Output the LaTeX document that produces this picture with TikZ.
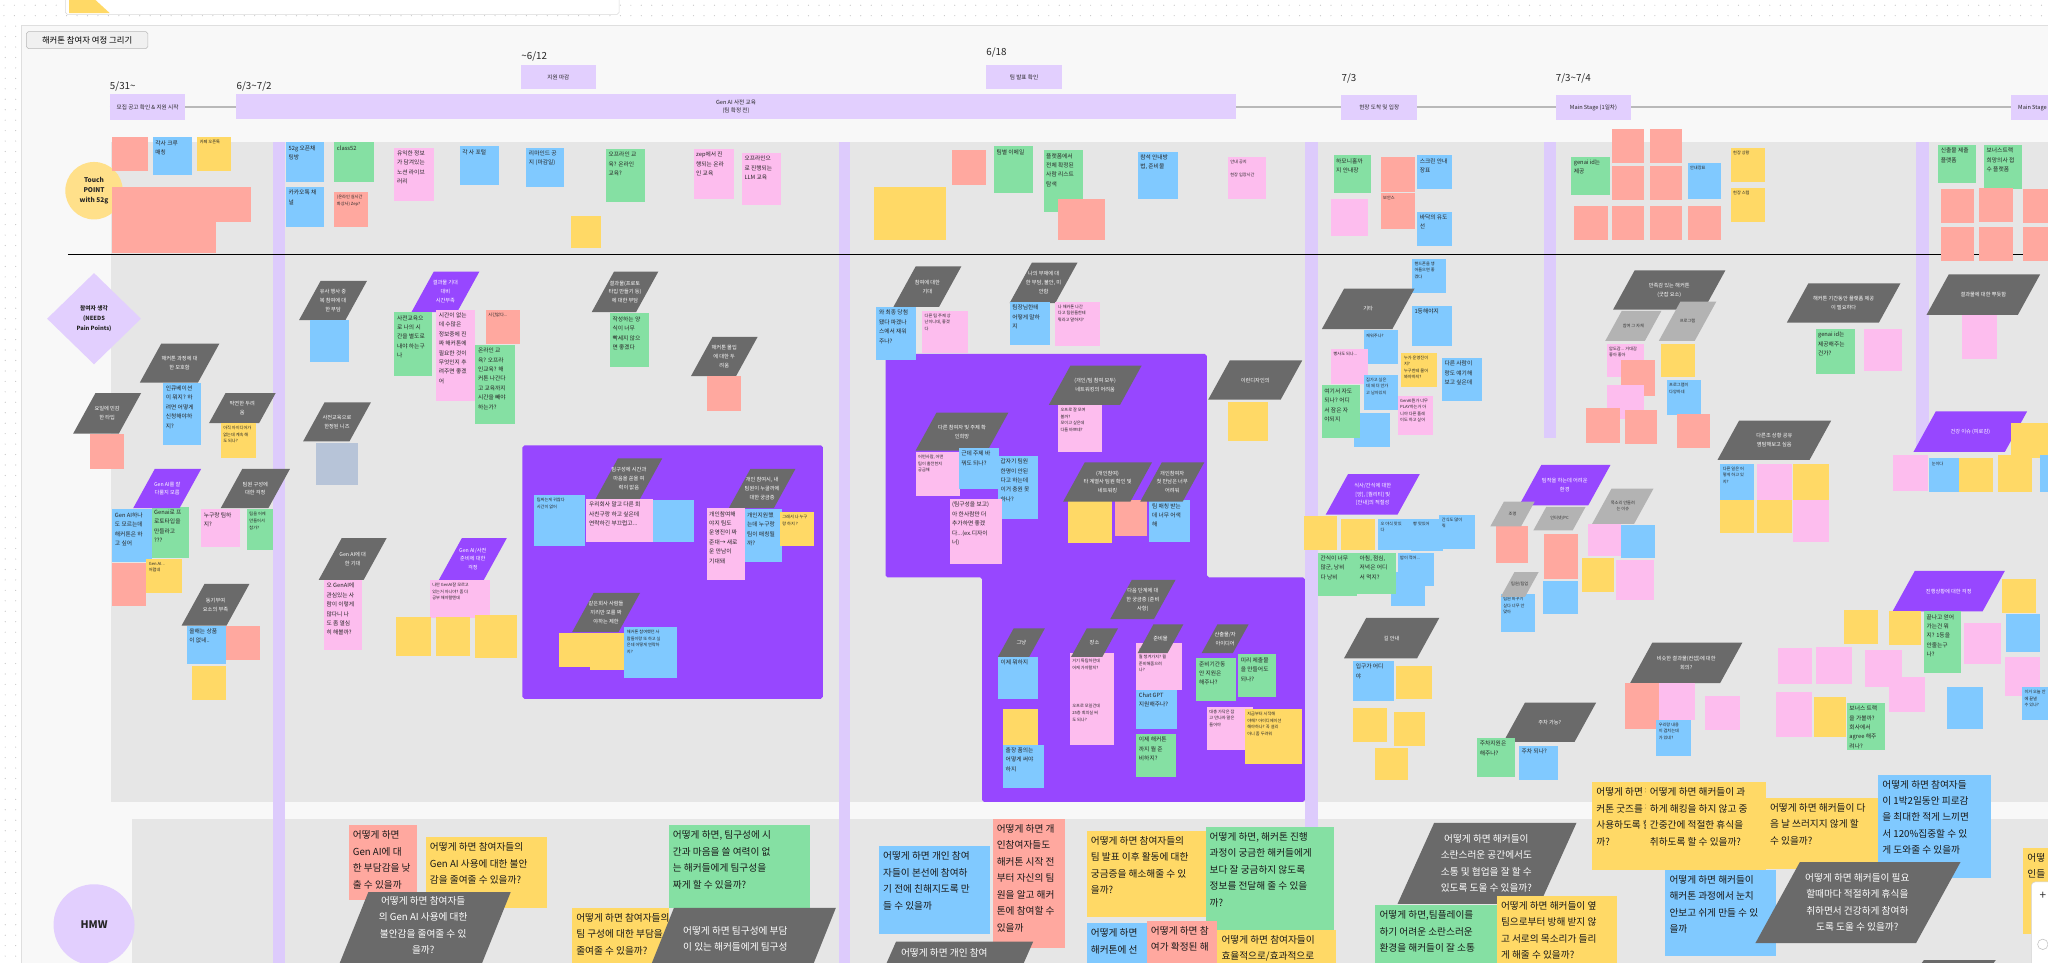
\documentclass[tikz,border=0pt]{standalone}
\usepackage{fontspec}
\setmainfont{Noto Sans CJK KR}
\usetikzlibrary{shapes.geometric}
\definecolor{cRed}{HTML}{FFA89F}
\definecolor{cBlue}{HTML}{80C9FF}
\definecolor{cYel}{HTML}{FFD966}
\definecolor{cGrn}{HTML}{85E0A3}
\definecolor{cPink}{HTML}{FDBDEE}
\definecolor{cGB}{HTML}{B7C4D8}
\definecolor{cDark}{HTML}{6A6A6A}
\definecolor{cLG}{HTML}{B3B3B3}
\definecolor{cVio}{HTML}{9747FF}
\definecolor{cLav}{HTML}{E2CFFE}
\definecolor{cStripe}{HTML}{DDCBFC}
\definecolor{cLane}{HTML}{E6E6E6}
\definecolor{cBoard}{HTML}{F8F8F8}
\definecolor{cTP}{HTML}{FFE08A}
\newcommand\fza{\fontsize{3.2}{5}\selectfont}
\newcommand\fzb{\fontsize{4.4}{7.2}\selectfont}
\newcommand\fzc{\fontsize{7.4}{12.6}\selectfont}
\newcommand\fzp{\fontsize{4}{6.8}\selectfont}
\newcommand\fzt{\fontsize{4.3}{6}\selectfont}
\newcounter{nid}
\tikzset{
 stkbox/.style={rectangle, inner sep=0pt, outer sep=0pt, draw=none},
 stktext/.style={align=left, inner sep=0pt, text=black!85},
 paratext/.style={align=center, inner sep=0pt},
 tlbox/.style={rectangle, fill=cLav, inner sep=0pt, outer sep=0pt, align=center, font=\fzt, text=black!85},
 datelbl/.style={anchor=west, inner sep=0pt, font=\fontsize{7.5}{9}\selectfont, text=black!85},
}
% sticky note: [font]{colour}{x1}{y1}{x2}{y2}{text}
\newcommand\stk[7][\fzb]{%
 \stepcounter{nid}%
 \node[stkbox, fill=#2, minimum width={#5-#3}, minimum height={#6-#4}, anchor=north west] (s\arabic{nid}) at (#3,#4) {};
 \node[stktext, font=#1, anchor=north west] (t\arabic{nid}) at ([xshift=1.8pt,yshift=-2.2pt]s\arabic{nid}.north west) {#7};}
% large HMW note
\newcommand\hm[6]{%
 \stepcounter{nid}%
 \node[stkbox, fill=#1, minimum width={#4-#2}, minimum height={#5-#3}, anchor=north west] (s\arabic{nid}) at (#2,#3) {};
 \node[stktext, font=\fzc, anchor=north west, text=black!90] (t\arabic{nid}) at ([xshift=3pt,yshift=-4pt]s\arabic{nid}.north west) {#6};}
% parallelogram: [font]{fill}{text colour}{x1}{y1}{x2}{y2}{text}
\newcommand\gpara[8][\fzp]{%
 \stepcounter{nid}%
 \pgfmathsetmacro\pslant{0.55*(#7-#5)}%
 \path[fill=#2] (#4+\pslant,#5) -- (#6,#5) -- (#6-\pslant,#7) -- (#4,#7) -- cycle;
 \node[paratext, font=#1, text=#3] (p\arabic{nid}) at ({(#4+#6)/2},{(#5+#7)/2}) {#8};}
\newcommand\hpara[5]{\path[fill=cDark] (#1+#5,#2) -- (#3,#2) -- (#3-#5,#4) -- (#1,#4) -- cycle;}
\begin{document}
\begin{tikzpicture}[x=1pt,y=-1pt]
\useasboundingbox (0,0) rectangle (1568,737);
\fill[white] (0,0) rectangle (1568,737);
\foreach \i in {0,...,195} {\fill[gray!45] (\i*8+3,4) circle (0.45); \fill[gray!45] (\i*8+3,12) circle (0.45);}
\foreach \j in {20,28,...,736} {\fill[gray!45] (4,\j) circle (0.45); \fill[gray!45] (12,\j) circle (0.45);}
\fill[cBoard] (16,19) rectangle (1568,737);
\draw[gray!25] (16,737) -- (16,19) -- (1568,19);
\filldraw[fill=white, draw=gray!30, rounded corners=1.5] (50,-3) rectangle (474,11);
\fill[cYel] (53,-1) -- (72,-1) -- (84,10) -- (53,10) -- cycle;
\node[draw=gray!55, fill=gray!12, rounded corners=1.5, minimum width=93, minimum height=13, anchor=north west, inner sep=0, font=\fontsize{6.4}{8}\selectfont] (title) at (20,24) {해커톤 참여자 여정 그리기};
% ---------- timeline ----------
\node[datelbl] (d1) at (84,66) {5/31\textasciitilde};
\node[datelbl] (d2) at (181,66) {6/3\textasciitilde 7/2};
\node[datelbl] (d3) at (399,43) {\textasciitilde 6/12};
\node[datelbl] (d4) at (755,40) {6/18};
\node[datelbl] (d5) at (1027,60) {7/3};
\node[datelbl] (d6) at (1191,60) {7/3\textasciitilde 7/4};
\draw[gray!55, line width=1.2] (84,82) -- (1568,82);
\node[tlbox, minimum width=58, minimum height=20, anchor=north west] (tb1) at (84,72) {모집 공고 확인 \& 지원 시작};
\node[tlbox, minimum width=765, minimum height=19, anchor=north west] (tb2) at (181,72) {Gen AI 사전 교육\\(팀 확정 전)};
\node[tlbox, minimum width=57, minimum height=18, anchor=north west] (tb3) at (399,50) {지원 마감};
\node[tlbox, minimum width=58, minimum height=18, anchor=north west] (tb4) at (755,50) {팀 발표 확인};
\node[tlbox, minimum width=58, minimum height=19, anchor=north west] (tb5) at (1027,73) {현장 도착 및 입장};
\node[tlbox, minimum width=58, minimum height=19, anchor=north west] (tb6) at (1191,73) {Main Stage (1일차)};
\node[tlbox, minimum width=58, minimum height=19, anchor=north west] (tb7) at (1540,73) {};
\node[anchor=west, inner sep=0, font=\fzt, text=black!85] (tb7t) at (1545,82.5) {Main Stage};
% ---------- lanes ----------
\fill[cLane] (85,109) rectangle (1568,614);
\fill[cLane] (101,627) rectangle (1568,737);
\fill[cStripe] (209,109) rectangle (218,737);
\fill[cStripe] (642,109) rectangle (651,737);
\fill[cStripe] (999,109) rectangle (1009,633);
\fill[cStripe] (1182,109) rectangle (1191,335);
\fill[cStripe] (1467,109) rectangle (1477,345);
\draw[black, line width=1.1] (52,195) -- (1568,195);
\fill[cVio, rounded corners=1.5] (400,341) rectangle (630,535);
\fill[cVio, rounded corners=1.5] (678,271) -- (924,271) -- (924,442) -- (999,442) -- (999,614) -- (752,614) -- (752,442) -- (678,442) -- cycle;
\node[circle, fill=cTP, minimum size=44, inner sep=0, align=center, font=\bfseries\fontsize{5}{7.4}\selectfont, text=black!85] (tp) at (72,146) {Touch\\POINT\\with 52g};
\node[diamond, fill=cLav, minimum width=72, minimum height=70, inner sep=0] (needs) at (72,244) {};
\node[align=center, inner sep=0, font=\bfseries\fontsize{4.4}{7.6}\selectfont, text=black!85] (needst) at (72,244) {참여자 생각\\(NEEDS\\Pain Points)};
\node[circle, fill=cLav, minimum size=62, inner sep=0, font=\bfseries\fontsize{8}{9}\selectfont, text=black!85] (hmwc) at (72,708) {HMW};
% ---------- touch points ----------
\stk[\fza]{cRed}{86}{105}{113}{131}{}
\stk{cBlue}{117}{105}{147}{134}{각사 크루\\매칭}
\stk[\fza]{cYel}{151}{105}{177}{131}{카페 오픈톡}
\stk[\fza]{cRed}{86}{143}{112}{170}{}
\stk[\fza]{cRed}{112}{143}{139}{170}{}
\stk[\fza]{cRed}{139}{143}{165}{170}{}
\stk[\fza]{cRed}{165}{143}{192}{170}{}
\stk[\fza]{cRed}{86}{170}{112}{194}{}
\stk[\fza]{cRed}{112}{170}{139}{194}{}
\stk[\fza]{cRed}{139}{170}{165}{194}{}
\stk{cBlue}{219}{109}{248}{139}{52g 오픈채\\팅방}
\stk{cGrn}{256}{109}{286}{139}{class52}
\stk{cBlue}{219}{143}{248}{174}{카카오톡 채\\널}
\stk[\fza]{cRed}{256}{147}{282}{174}{(온라인 실시간\\화상사) Zep?}
\stk{cPink}{302}{113}{332}{154}{유익한 정보\\가 담겨있는\\노션 라이브\\러리}
\stk{cBlue}{352}{112}{382}{142}{각 사 포털}
\stk{cBlue}{403}{113}{432}{143}{리마인드 공\\지 (마감일)}
\stk[\fza]{cYel}{437}{165}{460}{190}{}
\stk{cGrn}{464}{114}{494}{155}{오프라인 교\\육? 온라인\\교육?}
\stk{cPink}{531}{114}{562}{152}{zep에서 진\\행되는 온라\\인 교육}
\stk{cPink}{568}{117}{598}{157}{오프라인으\\로 진행되는\\LLM 교육}
\stk[\fza]{cYel}{669}{143}{724}{184}{}
\stk[\fza]{cRed}{729}{115}{755}{142}{}
\stk{cGrn}{761}{112}{791}{148}{팀별 이메일}
\stk{cGrn}{799}{115}{829}{162}{플랫폼에서\\전체 확정된\\사람 리스트\\탐색}
\stk[\fza]{cRed}{810}{152}{846}{184}{}
\stk{cBlue}{871}{116}{902}{152}{참석 안내방\\법, 준비물}
\stk[\fza]{cPink}{940}{120}{969}{152}{안내 공지\\~\\현장 입장시간}
\stk{cGrn}{1021}{119}{1050}{148}{하모니홀까\\지 안내장}
\stk[\fza]{cRed}{1057}{120}{1083}{147}{}
\stk{cBlue}{1085}{119}{1112}{145}{스크린 안내\\장표}
\stk[\fza]{cPink}{1019}{152}{1047}{181}{}
\stk[\fza]{cRed}{1057}{148}{1083}{175}{보안스}
\stk{cBlue}{1085}{162}{1112}{188}{바닥의 유도\\선}
\stk{cGrn}{1203}{120}{1233}{149}{genai id는\\제공}
\stk[\fza]{cRed}{1234}{99}{1259}{125}{}
\stk[\fza]{cRed}{1263}{99}{1288}{125}{}
\stk[\fza]{cRed}{1234}{127}{1259}{153}{}
\stk[\fza]{cRed}{1263}{127}{1288}{153}{}
\stk[\fza]{cBlue}{1292}{125}{1318}{152}{안내장표}
\stk[\fza]{cRed}{1205}{158}{1231}{184}{}
\stk[\fza]{cRed}{1234}{158}{1259}{184}{}
\stk[\fza]{cRed}{1263}{158}{1288}{184}{}
\stk[\fza]{cRed}{1292}{158}{1318}{184}{}
\stk[\fza]{cYel}{1325}{113}{1351}{139}{현장 상황}
\stk[\fza]{cYel}{1325}{144}{1351}{170}{현장 스텝}
\stk{cGrn}{1484}{111}{1513}{140}{신출물 제출\\플랫폼}
\stk{cGrn}{1519}{111}{1548}{145}{보너스트랙\\희망의사 접\\수 플랫폼}
\stk[\fza]{cRed}{1486}{145}{1511}{171}{}
\stk[\fza]{cRed}{1515}{144}{1541}{170}{}
\stk[\fza]{cRed}{1549}{145}{1575}{171}{}
\stk[\fza]{cRed}{1486}{174}{1511}{200}{}
\stk[\fza]{cRed}{1515}{174}{1541}{200}{}
\stk[\fza]{cRed}{1549}{174}{1575}{200}{}
% ---------- needs: left ----------
\gpara{cDark}{white}{229}{215}{281}{245}{유사 행사 중\\복 참여에 대\\한 부담}
\stk[\fza]{cBlue}{237}{245}{267}{277}{}
\gpara{cVio}{white}{315}{208}{367}{239}{결과물 기대\\대비\\시간부족}
\stk{cGrn}{302}{239}{331}{288}{사전교육으\\로 나의 시\\간을 별도로\\내야 하는구\\나}
\stk{cPink}{334}{237}{364}{307}{시간이 없는\\데 수많은\\정보중에 진\\짜 해커톤에\\필요한 것이\\무엇인지 추\\려주면 좋겠\\어}
\stk[\fza]{cRed}{372}{237}{398}{263}{시간없다...}
\stk{cGrn}{364}{264}{394}{325}{온라인 교\\육? 오프라\\인교육? 해\\커톤 나간다\\고 교육까지\\시간을 빼야\\하는가?}
\gpara{cDark}{white}{107}{263}{168}{293}{해커톤 과정에 대\\한 모호함}
\stk{cBlue}{125}{293}{154}{341}{인큐베이션\\이 뭐지? 하\\려면 어떻게\\신청해야하\\지?}
\gpara{cDark}{white}{160}{301}{211}{324}{막연한 두려\\움}
\stk[\fza]{cYel}{169}{324}{196}{351}{아직 아이디어가\\없는데 계속 해\\도 되나?}
\gpara{cDark}{white}{56}{301}{108}{332}{요일에 민감\\한 타입}
\stk[\fza]{cRed}{69}{332}{95}{359}{}
\gpara{cDark}{white}{232}{308}{284}{338}{사전교육으로\\한정된 니즈}
\stk[\fza]{cGB}{242}{339}{274}{371}{}
\stk{cBlue}{86}{390}{116}{430}{Gen AI하나\\도 모르는데\\해커톤은 하\\고 싶어}
\stk{cGrn}{116}{388}{145}{427}{Genai로 프\\로토타입을\\만들라고\\???}
\gpara{cVio}{white}{102}{359}{154}{389}{Gen AI를 잘\\다룰지 모름}
\gpara{cDark}{white}{169}{359}{222}{389}{팀원 구성에\\대한 걱정}
\stk[\fza]{cRed}{86}{431}{112}{464}{}
\stk[\fza]{cYel}{112}{428}{139}{454}{Gen AI...\\어렵네}
\stk{cPink}{154}{390}{184}{419}{누구랑 팀하\\지?}
\stk[\fza]{cGrn}{189}{390}{209}{421}{팀을 어케\\만들어서\\참가?}
\gpara{cDark}{white}{139}{447}{191}{479}{동기부여\\요소의 부족}
\stk{cBlue}{143}{479}{173}{508}{올해는 상품\\이 없네..}
\stk[\fza]{cRed}{173}{479}{199}{505}{}
\stk[\fza]{cYel}{147}{510}{173}{536}{}
\gpara{cDark}{white}{244}{412}{296}{444}{Gen AI에 대\\한 기대}
\stk{cPink}{248}{444}{277}{498}{오 GenAI에\\관심있는 사\\람이 이렇게\\많다니 나\\도 좀 열심\\히 해볼까?}
\gpara{cVio}{white}{336}{412}{388}{444}{Gen AI/사전\\준비에 대한\\걱정}
\stk[\fza]{cPink}{329}{444}{375}{473}{나만 GenAI잘 모르고\\있는거 아니야? 좀 더\\공부 해야할텐데}
\stk[\fza]{cYel}{303}{472}{330}{502}{}
\stk[\fza]{cYel}{334}{472}{360}{502}{}
\stk[\fza]{cYel}{364}{471}{396}{504}{}
% ---------- needs: middle ----------
\gpara{cDark}{white}{453}{208}{504}{239}{결과물(프로토\\타입 만들기 등)\\에 대한 부담}
\stk{cGrn}{467}{240}{497}{281}{작성하는 양\\식이 너무\\빡세지 않으\\면 좋겠다}
\gpara{cDark}{white}{529}{258}{580}{288}{해커톤 몰입\\에 대한 두\\려움}
\stk[\fza]{cRed}{541}{288}{567}{315}{}
\gpara{cDark}{white}{456}{351}{507}{382}{팀구성에 시간과\\마음을 쏟을 여\\력이 없음}
\stk[\fza]{cBlue}{409}{379}{448}{418}{팀짜는게 귀찮다\\시간이 없어}
\stk{cPink}{449}{382}{500}{415}{우리회사 말고 다른 회\\사친구랑 하고 싶은데\\연락하긴 부끄럽고...}
\stk[\fza]{cBlue}{500}{383}{531}{415}{}
\gpara{cDark}{white}{558}{359}{609}{389}{개인 참여시, 내\\팀원이 누굴까에\\대한 궁금증}
\stk{cPink}{541}{389}{570}{444}{개인참여해\\야지 팀도\\운영진이 짜\\준대→ 새로\\운 만남이\\기대돼}
\stk{cBlue}{570}{390}{599}{430}{개인지원했\\는데 누구랑\\팀이 매칭될\\까?}
\stk[\fza]{cYel}{597}{392}{623}{418}{그래서 나 누구\\랑 하지 ?}
\gpara{cDark}{white}{438}{454}{490}{484}{같은회사 사람들\\끼리만 모를 짜\\야하는 제한}
\stk[\fza]{cYel}{428}{485}{452}{511}{}
\stk[\fza]{cYel}{452}{485}{478}{513}{}
\stk[\fza]{cBlue}{478}{480}{518}{519}{해커톤 참여했던 사\\람들이랑 또 하고 싶\\은데 어떻게 연락하\\지?}
\gpara{cDark}{white}{684}{204}{736}{235}{참여에 대한\\기대}
\stk{cBlue}{671}{235}{701}{276}{와 최종 당첨\\됐다 파겠나\\스에서 재워\\주나?}
\stk[\fza]{cPink}{706}{238}{741}{270}{다른 팀 주제 상\\난이니데, 좋겠\\다}
\gpara{cDark}{white}{773}{201}{825}{232}{나의 부재에 대\\한 부담, 불안, 미\\안함}
\stk{cBlue}{773}{231}{804}{264}{팀장님한테\\어떻게 말하\\지}
\stk[\fza]{cPink}{808}{231}{842}{265}{나 해커톤 나간\\다고 팀원들한테\\뭐라고 말하지?}
\stk[\fza]{cPink}{810}{310}{844}{346}{오프로 잘 모여\\볼까?\\모이고 싶은데\\다들 바쁘네?}
\gpara{cDark}{white}{803}{280}{874}{310}{(개인/팀 참여 모두)\\네트워킹의 어려움}
\gpara{cDark}{white}{701}{316}{772}{345}{다른 참여자 및 주제 확\\인희망}
\stk[\fza]{cPink}{701}{346}{735}{380}{어떤사람, 어떤\\팀이 출전한지\\궁금해}
\stk{cBlue}{734}{343}{765}{374}{근데 주제 바\\꿔도 되나?}
\stk{cBlue}{764}{349}{795}{397}{갑자기 팀원\\한명이 안된\\다고 하는데\\이거 충원 못\\하나?}
\stk{cPink}{727}{382}{767}{432}{(팀구성을 보고)\\아 한사람만 더\\추가하면 좋겠\\다...(ex.디자이\\너)}
\stk[\fza]{cYel}{818}{383}{851}{416}{}
\stk[\fza]{cRed}{854}{383}{878}{410}{}
\stk{cBlue}{880}{383}{911}{415}{팀 매칭 받는\\데 너무 어색\\해}
\gpara{cDark}{white}{814}{354}{882}{384}{(개인참여)\\타 계열사 팀원 확인 및\\네트워킹}
\gpara{cDark}{white}{873}{354}{922}{384}{개인참여자\\첫 만남은 너무\\어려워}
\gpara{cDark}{white}{925}{276}{997}{306}{이런디자인의}
\stk[\fza]{cYel}{940}{308}{971}{338}{}
\gpara{cDark}{white}{850}{444}{900}{474}{다음 단계에 대\\한 궁금증 (준비\\사항)}
\stk{cBlue}{764}{503}{795}{535}{이제 뭐하지}
\gpara{cDark}{white}{764}{481}{800}{503}{그냥}
\stk[\fza]{cYel}{768}{543}{795}{572}{}
\stk{cBlue}{768}{570}{799}{603}{출장 품의는\\어떻게 써야\\하지}
\stk[\fza]{cPink}{819}{500}{853}{537}{~\\거기 특팁하던데\\어케 가야할지?}
\gpara{cDark}{white}{820}{481}{856}{503}{장소}
\stk[\fza]{cPink}{819}{537}{853}{570}{오프로 모일건데\\25층 회의실 써\\도 되나?}
\stk[\fza]{cPink}{870}{492}{905}{528}{~\\작업해야하는데\\뭘 챙겨가지? 뭘\\준비해줌으려\\나?}
\gpara{cDark}{white}{871}{478}{906}{500}{준비물}
\stk{cBlue}{870}{528}{901}{558}{Chat GPT\\지원해주나?}
\stk{cGrn}{870}{562}{900}{595}{이제 해커톤\\까지 뭘 준\\비하지?}
\gpara{cDark}{white}{920}{478}{956}{500}{산출물/자\\아이디어}
\stk{cGrn}{916}{504}{946}{537}{준비기간동\\안 지원은\\해주나?}
\stk{cGrn}{948}{501}{977}{534}{미리 제출물\\을 만들어도\\되나?}
\stk[\fza]{cPink}{924}{541}{959}{574}{대충 가닥은 잡\\고 만나자 말은\\들어야}
\stk[\fza]{cYel}{953}{543}{997}{585}{지금부터 시작해\\야해? 아이디에이션\\해야하나? 꼭 설리\\아니 좀 두려워}
% ---------- needs: right ----------
\stk[\fza]{cBlue}{1081}{198}{1107}{224}{핸드폰을 챙\\어들으면 좋\\겠다}
\gpara{cDark}{white}{1012}{221}{1083}{252}{기타}
\stk{cBlue}{1081}{234}{1112}{265}{1등해야지}
\stk[\fza]{cBlue}{1044}{253}{1070}{279}{재워주나?}
\stk[\fza]{cPink}{1019}{267}{1047}{294}{빵사도 되나...}
\stk[\fza]{cYel}{1073}{270}{1100}{296}{누가 운영진이\\지?\\누구한테 물어\\봐야하지?}
\stk{cBlue}{1104}{274}{1135}{307}{다른 사람이\\랑도 얘기해\\보고 싶은데}
\stk[\fza]{cBlue}{1044}{287}{1070}{314}{집가고 싶은\\데 왜 더 안가\\고 남아있지}
\stk[\fza]{cBlue}{1037}{316}{1064}{342}{}
\stk{cGrn}{1012}{295}{1041}{335}{여기서 자도\\되나? 어디\\서 잠은 자\\야되지}
\stk[\fza]{cPink}{1070}{303}{1097}{333}{GenAI뭔가 너무\\PLAY하는거 아\\니야 다른 플레\\이도 하고 싶어}
\gpara{cDark}{white}{1235}{207}{1321}{237}{만족감 있는 해커톤\\(굿잡 요소)}
\gpara[\fza]{cLG}{black!80}{1229}{238}{1272}{261}{참여 그 자체}
\gpara[\fza]{cLG}{black!80}{1270}{231}{1314}{261}{프로그램}
\stk[\fza]{cPink}{1230}{263}{1259}{289}{압도감... 거대감\\좋아 좋아}
\stk[\fza]{cYel}{1272}{263}{1298}{289}{}
\stk[\fza]{cRed}{1241}{276}{1267}{303}{}
\stk[\fza]{cPink}{1230}{295}{1259}{321}{}
\stk[\fza]{cBlue}{1276}{291}{1302}{318}{프로그램이\\다양하네}
\stk[\fza]{cRed}{1214}{312}{1240}{339}{}
\stk[\fza]{cRed}{1244}{314}{1269}{340}{}
\stk[\fza]{cRed}{1284}{317}{1309}{343}{}
\gpara{cDark}{white}{1315}{322}{1402}{352}{다른조 상황 공유\\염탐해보고 싶음}
\gpara{cDark}{white}{1368}{217}{1455}{247}{해커톤 기간동안 플랫폼 제공\\이 필요하다}
\stk{cGrn}{1390}{252}{1420}{286}{genai id는\\제공해주는\\건가?}
\stk[\fza]{cPink}{1427}{252}{1456}{284}{}
\gpara{cDark}{white}{1475}{210}{1562}{241}{결과물에 대한 뿌듯함}
\stk[\fza]{cPink}{1502}{241}{1529}{275}{}
\gpara{cVio}{white}{1465}{315}{1552}{346}{건강 이슈 (피로감)}
\stk[\fza]{cYel}{1540}{324}{1575}{351}{}
\gpara{cVio}{white}{1015}{363}{1087}{394}{식사/간식에 대한\\{[양], [퀄리티] 및}\\{[안내]의 적절성}}
\stk[\fza]{cYel}{998}{395}{1024}{421}{}
\stk[\fza]{cYel}{1027}{397}{1053}{421}{}
\stk[\fza]{cBlue}{1055}{397}{1083}{421}{오 야식 맛있\\다}
\stk[\fza]{cBlue}{1080}{397}{1105}{422}{빵 맛있어}
\stk[\fza]{cBlue}{1102}{394}{1129}{420}{간식도 많이\\줘}
\stk[\fza]{cBlue}{1070}{423}{1098}{449}{밥이 적어...}
\stk[\fza]{cBlue}{1065}{438}{1091}{464}{}
\stk{cGrn}{1009}{423}{1039}{456}{간식이 너무\\많군, 낭비\\다 낭비}
\stk{cGrn}{1039}{423}{1069}{455}{아침, 점심,\\저녁은 어디\\서 먹지?}
\gpara{cDark}{white}{1029}{473}{1102}{504}{길 안내}
\stk{cBlue}{1036}{506}{1067}{537}{입구가 어디\\야}
\stk[\fza]{cYel}{1069}{510}{1096}{535}{}
\stk[\fza]{cYel}{1036}{542}{1062}{568}{}
\stk[\fza]{cYel}{1067}{545}{1091}{571}{}
\stk[\fza]{cYel}{1053}{573}{1078}{597}{}
\gpara{cVio}{white}{1163}{356}{1233}{387}{팀작을 하는데 어려운\\환경}
\stk[\fza]{cRed}{1145}{403}{1170}{431}{}
\stk[\fza]{cRed}{1182}{409}{1208}{443}{}
\stk[\fza]{cPink}{1216}{401}{1241}{426}{}
\stk[\fza]{cBlue}{1241}{402}{1267}{427}{}
\stk[\fza]{cYel}{1211}{427}{1236}{453}{}
\stk[\fza]{cPink}{1237}{429}{1266}{459}{}
\gpara[\fza]{cLG}{black!80}{1141}{384}{1175}{403}{조명}
\gpara[\fza]{cLG}{black!80}{1174}{388}{1214}{406}{인터넷/PC}
\gpara[\fza]{cLG}{black!80}{1219}{374}{1266}{401}{목소리 안들려\\는 이슈}
\stk[\fza]{cBlue}{1181}{445}{1208}{470}{}
\stk[\fza]{cBlue}{1149}{455}{1175}{484}{팀원 바꾸기\\싶다 너무 안\\맞아}
\gpara[\fza]{cLG}{black!80}{1149}{438}{1178}{457}{팀원/팀업}
\gpara{cDark}{white}{1151}{538}{1222}{568}{주차 가능?}
\stk{cGrn}{1131}{565}{1160}{595}{주차지원은\\해주나?}
\stk{cBlue}{1163}{571}{1193}{597}{주차 되나?}
\gpara{cDark}{white}{1248}{492}{1334}{523}{비슷한 결과물(컨셉)에 대한\\회의?}
\stk[\fza]{cRed}{1244}{523}{1270}{558}{}
\stk[\fza]{cPink}{1270}{523}{1298}{551}{}
\stk[\fza]{cBlue}{1268}{551}{1295}{579}{우리랑 내용\\이 겹치는데\\가 있네?}
\stk[\fza]{cPink}{1305}{533}{1332}{559}{}
\stk[\fza]{cBlue}{1317}{355}{1343}{383}{다른 일은 어\\떻게 하고 있\\지?}
\stk[\fza]{cPink}{1345}{355}{1372}{383}{}
\stk[\fza]{cYel}{1373}{355}{1400}{383}{}
\stk[\fza]{cYel}{1317}{383}{1343}{408}{}
\stk[\fza]{cYel}{1345}{383}{1372}{408}{}
\stk[\fza]{cPink}{1373}{383}{1400}{415}{}
\stk[\fza]{cPink}{1449}{348}{1476}{376}{}
\stk[\fza]{cBlue}{1477}{351}{1500}{377}{눈이다}
\stk[\fza]{cYel}{1500}{351}{1526}{377}{}
\stk[\fza]{cYel}{1530}{348}{1556}{377}{}
\stk[\fza]{cBlue}{1562}{348}{1580}{377}{}
\gpara{cVio}{white}{1449}{437}{1535}{468}{진행상황에 대한 걱정}
\stk[\fza]{cYel}{1533}{443}{1559}{469}{}
\stk[\fza]{cYel}{1412}{467}{1438}{493}{}
\stk[\fza]{cYel}{1446}{468}{1471}{494}{}
\stk{cGrn}{1473}{468}{1501}{515}{끝나고 얻어\\가는건 뭐\\지? 1등을\\안줄는구\\나?}
\stk[\fza]{cPink}{1504}{477}{1532}{508}{}
\stk[\fza]{cBlue}{1536}{470}{1562}{499}{}
\stk[\fza]{cPink}{1361}{496}{1387}{524}{}
\stk[\fza]{cPink}{1390}{495}{1418}{524}{}
\stk[\fza]{cPink}{1428}{498}{1456}{526}{}
\stk[\fza]{cPink}{1446}{518}{1474}{545}{}
\stk[\fza]{cPink}{1360}{530}{1387}{564}{}
\stk[\fza]{cYel}{1389}{534}{1413}{564}{}
\stk{cGrn}{1414}{538}{1443}{574}{보너스 트랙\\을 가볼까?\\회사에서\\agree 해주\\려나?}
\stk[\fza]{cBlue}{1491}{526}{1518}{558}{}
\stk[\fza]{cPink}{1535}{503}{1562}{533}{}
\stk[\fza]{cBlue}{1548}{526}{1575}{551}{이거 오늘 안\\에 끝낼\\수 있나?}
% ---------- HMW ----------
\hm{cRed}{267}{632}{319}{689}{어떻게 하면\\Gen AI에 대\\한 부담감을 낮\\출 수 있을까}
\hm{cYel}{326}{641}{419}{695}{어떻게 하면 참여자들의\\Gen AI 사용에 대한 불안\\감을 줄여줄 수 있을까?}
\hpara{257}{683}{391}{745}{25}
\node[paratext, font=\fzc, text=white, anchor=north] (h1) at (324,686) {어떻게 하면 참여자들\\의 Gen AI 사용에 대한\\불안감을 줄여줄 수 있\\을까?};
\hm{cYel}{438}{695}{512}{745}{어떻게 하면 참여자들의\\팀 구성에 대한 부담을\\줄여줄 수 있을까?}
\hm{cGrn}{512}{632}{620}{695}{어떻게 하면, 팀구성에 시\\간과 마음을 쓸 여력이 없\\는 해커들에게 팀구성을\\짜게 할 수 있을까?}
\hpara{490}{695}{640}{760}{26}
\node[paratext, font=\fzc, text=white, anchor=north] (h2) at (563,709) {어떻게 하면 팀구성에 부담\\이 있는 해커들에게 팀구성};
\hm{cBlue}{673}{648}{758}{715}{어떻게 하면 개인 참여\\자들이 본선에 참여하\\기 전에 친해지도록 만\\들 수 있을까}
\hm{cRed}{760}{627}{815}{726}{어떻게 하면 개\\인참여자들도\\해커톤 시작 전\\부터 자신의 팀\\원을 알고 해커\\톤에 참여할 수\\있을까}
\hpara{660}{721}{791}{780}{26}
\node[paratext, font=\fzc, text=white, anchor=north] (h3) at (723,726) {어떻게 하면 개인 참여};
\hm{cYel}{832}{636}{923}{702}{어떻게 하면 참여자들의\\팀 발표 이후 활동에 대한\\궁금증을 해소해줄 수 있\\을까?}
\hm{cGrn}{923}{633}{1021}{722}{어떻게 하면, 해커톤 진행\\과정이 궁금한 해커들에게\\보다 잘 궁금하지 않도록\\정보를 전달해 줄 수 있을\\까?}
\hm{cBlue}{832}{707}{878}{745}{어떻게 하면\\해커톤에 선}
\hm{cRed}{878}{705}{932}{745}{어떻게 하면 참\\여가 확정된 해}
\hm{cYel}{932}{712}{1023}{745}{어떻게 하면 참여자들이\\효율적으로/효과적으로}
\hpara{1070}{630}{1207}{692}{28}
\node[paratext, font=\fzc, text=white] (h4) at (1138,661) {어떻게 하면 해커들이\\소란스러운 공간에서도\\소통 및 협업을 잘 할 수\\있도록 도울 수 있을까?};
\hm{cGrn}{1053}{693}{1152}{745}{어떻게 하면,팀플레이를\\하기 어려운 소란스러운\\환경을 해커들이 잘 소통}
\hm{cYel}{1146}{686}{1238}{745}{어떻게 하면 해커들이 옆\\팀으로부터 방해 받지 않\\고 서로의 목소리가 들리\\게 해줄 수 있을까?}
\hm{cYel}{1219}{599}{1263}{666}{어떻게 하면 해\\커톤 굿즈를 잘\\사용하도록 할\\까?}
\hm{cYel}{1260}{599}{1352}{666}{어떻게 하면 해커들이 과\\하게 해킹을 하지 않고 중\\간중간에 적절한 휴식을\\취하도록 할 수 있을까?}
\hm{cYel}{1352}{611}{1438}{665}{어떻게 하면 해커들이 다\\음 날 쓰러지지 않게 할\\수 있을까?}
\hm{cBlue}{1438}{593}{1524}{672}{어떻게 하면 참여자들\\이 1박2일동안 피로감\\을 최대한 적게 느끼면\\서 120\%집중할 수 있\\게 도와줄 수 있을까}
\hm{cBlue}{1275}{666}{1360}{732}{어떻게 하면 해커들이\\해커톤 과정에서 눈치\\안보고 쉬게 만들 수 있\\을까}
\hpara{1344}{660}{1501}{722}{34}
\node[paratext, font=\fzc, text=white] (h5) at (1422,691) {어떻게 하면 해커들이 필요\\할때마다 적절하게 휴식을\\취하면서 건강하게 참여하\\도록 도울 수 있을까?};
\hm{cYel}{1549}{649}{1590}{715}{어떻\\인들}
\hpara{1448}{735}{1528}{770}{25}
\node[draw=gray!35, fill=white, rounded corners=3, minimum width=26, minimum height=70, anchor=north west, inner sep=0] (zw) at (1555,675) {};
\node[inner sep=0, font=\fontsize{9}{10}\selectfont, text=black!80] (zplus) at (1564,686) {+};
\node[circle, draw=gray!50, fill=white, minimum size=8, inner sep=0] (zknob) at (1564,723) {};
\end{tikzpicture}
\end{document}
